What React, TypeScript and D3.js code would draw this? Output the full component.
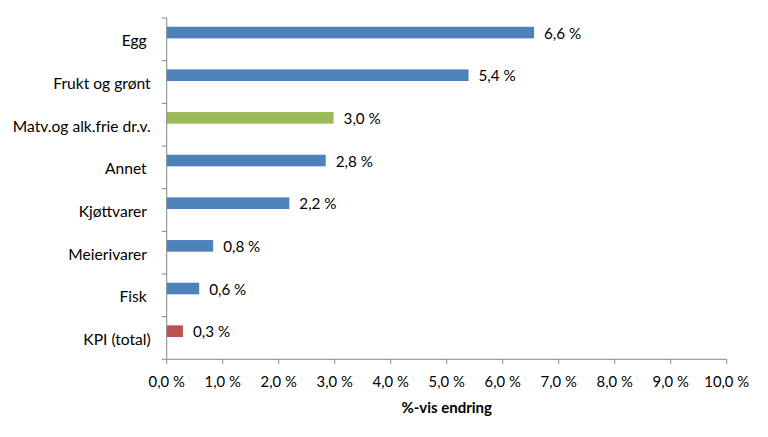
import React from "react";
import * as d3 from "d3";

const categories = ["Egg ", "Frukt og grønt", "Matv.og alk.frie dr.v.", "Annet ", "Kjøttvarer ", "Meierivarer ", "Fisk ", "KPI (total)"];
const values = [6.56, 5.39, 2.98, 2.84, 2.19, 0.83, 0.58, 0.29];
const barColors = ["#4F81BD", "#4F81BD", "#9BBB59", "#4F81BD", "#4F81BD", "#4F81BD", "#4F81BD", "#C0504D"];
const xTicks = [0, 1, 2, 3, 4, 5, 6, 7, 8, 9, 10];
const xTitle = "%-vis endring";

const W = 768, H = 437;
const left = 166.7, right = 726.7, top = 18, bottom = 359.3;
const font = "Lato, 'Open Sans', sans-serif";

const fmt = (v: number) => d3.format(".1f")(v).replace(".", ",") + " %";

export default function App() {
  const x = d3.scaleLinear().domain([0, 10]).range([left, right]);
  const y = d3.scaleBand<number>().domain(d3.range(categories.length)).range([top, bottom]).padding(0);
  const bw = y.bandwidth();
  const axisColor = "#868686";
  return (
    <svg width={W} height={H} style={{ position: "absolute", left: 0, top: 0 }}>
      <rect width={W} height={H} fill="#fff" />
      {values.map((v, i) => {
        const by = (y(i) as number) + bw * 0.205;
        const bh = bw * 0.272;
        return (
          <g key={i}>
            <rect x={x(0)} y={by} width={x(v) - x(0)} height={bh} fill={barColors[i]} />
            <text x={x(v) + 10} y={by + bh / 2} dominantBaseline="central" fontFamily={font} fontSize={15.2} fill="#000">
              {fmt(v)}
            </text>
            <text x={left - 16} y={(y(i) as number) + bw / 2 + 1} dominantBaseline="central" textAnchor="end" fontFamily={font} fontSize={15.6} fill="#000" style={{ whiteSpace: "pre" }}>
              {categories[i]}
            </text>
          </g>
        );
      })}
      <line x1={left} x2={left} y1={top} y2={bottom} stroke={axisColor} strokeWidth={1} />
      {d3.range(categories.length + 1).map((i) => {
        const ty = top + i * bw;
        return <line key={"yt" + i} x1={left - 5} x2={left} y1={ty} y2={ty} stroke={axisColor} />;
      })}
      <line x1={left} x2={right} y1={bottom} y2={bottom} stroke={axisColor} strokeWidth={1} />
      {xTicks.map((t) => (
        <g key={"xt" + t}>
          <line x1={x(t)} x2={x(t)} y1={bottom} y2={bottom + 5} stroke={axisColor} />
          <text x={x(t)} y={bottom + 22} dominantBaseline="central" textAnchor="middle" fontFamily={font} fontSize={14.8} fill="#000">
            {fmt(t)}
          </text>
        </g>
      ))}
      <text x={(left + right) / 2} y={bottom + 48} dominantBaseline="central" textAnchor="middle" fontFamily={font} fontSize={15} fontWeight="bold" fill="#000">
        {xTitle}
      </text>
    </svg>
  );
}
